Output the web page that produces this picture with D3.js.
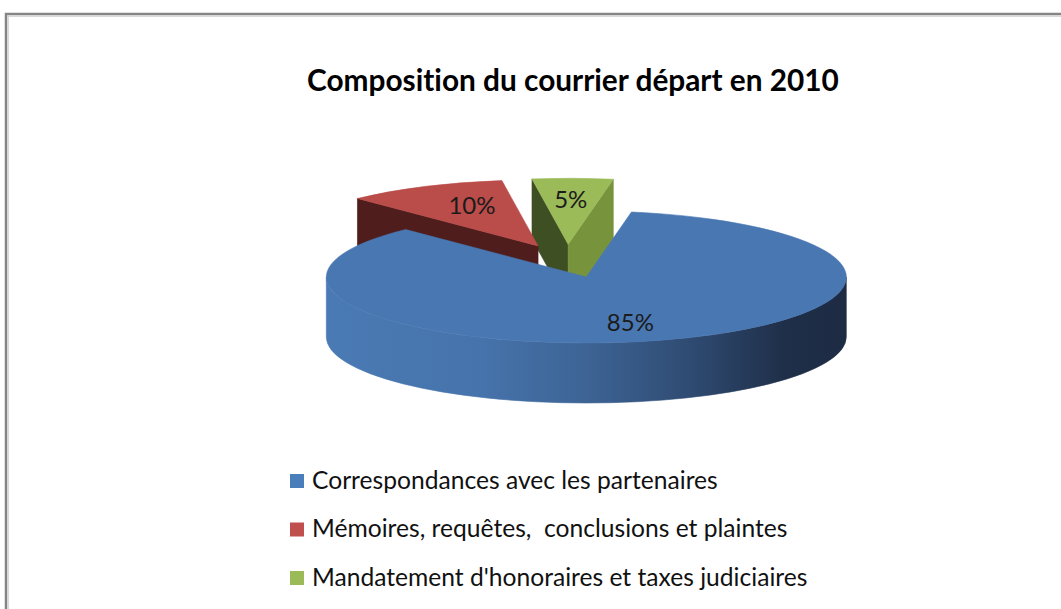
<!DOCTYPE html>
<html><head><meta charset="utf-8">
<script src="https://cdn.jsdelivr.net/npm/d3@7"></script>
<style>body{margin:0;background:#fff;} svg{display:block;} text{font-variant-ligatures:none;font-feature-settings:"liga" 0;}</style>
</head><body>
<svg id="chart" width="1061" height="609"></svg>
<script>
// ---- data ----
const titleText = "Composition du courrier départ en 2010";
const categories = [
  "Correspondances avec les partenaires",
  "Mémoires, requêtes,  conclusions et plaintes",
  "Mandatement d'honoraires et taxes judiciaires"
];
const values = [85, 10, 5];
const labelTexts = ["85%", "10%", "5%"];
const topColors = ["#4977b2", "#ba4c49", "#9bbb59"];
const legendColors = ["#4a7ebb", "#c0504d", "#9bbb59"];
const darkFaceColors = ["#1d2b43", "#4f1d1b", "#3d4f23"];
const midFaceColors = ["#2f4b72", "#7a2b29", "#77933c"];
const wallStops = [
  ["#4a7ab4", "#4673ab", "#3d6495", "#2f4b72", "#1f2f49", "#1d2b43"],
  ["#b94c4a", "#a94442", "#923a38", "#73302e", "#55201e", "#4f1d1b"],
  ["#98b857", "#8aa84f", "#7a9544", "#637a37", "#4a5c29", "#3d4f23"]
];
const stopOffsets = [0, 0.3, 0.5, 0.7, 0.88, 1];

// ---- layout ----
const W = 1061, H = 609;
const cx = 567, cy = 261, rx = 260, ry = 66, depth = 60, explode = 66;
const k = ry / rx;
const font = "Lato, 'Open Sans', sans-serif";

const svg = d3.select("#chart");
const defs = svg.append("defs");

// frame
svg.append("path").attr("d", `M6,${H} V14 H${W}`).attr("fill", "none")
  .attr("stroke", "#858585").attr("stroke-width", 2.5);
svg.append("path").attr("d", `M8.2,${H} V16.2 H${W}`).attr("fill", "none")
  .attr("stroke", "#c8c8c8").attr("stroke-width", 1);

// title
const title = svg.append("text").attr("x", 573).attr("y", 91)
  .attr("text-anchor", "middle").attr("font-family", font)
  .attr("font-weight", "bold").attr("font-size", 30).attr("fill", "#000")
  .text(titleText);
{
  const w = title.node().getComputedTextLength();
  title.attr("font-size", 30 * 532 / w);
}

// pie
const deg = Math.PI / 180;
const pie = d3.pie().sort(null).value(d => d)
  .startAngle(10 * deg).endAngle(370 * deg);
const arcs = pie(values).map((a, i) => {
  const mid = (a.startAngle + a.endAngle) / 2;
  return Object.assign(a, {
    i, mid,
    c: { x: cx + explode * Math.sin(mid), y: cy - explode * k * Math.cos(mid) }
  });
});

const P = (c, t, z = 0, f = 1) => [c.x + rx * f * Math.sin(t), c.y - ry * f * Math.cos(t) + z];
const pt = p => `${p[0].toFixed(2)},${p[1].toFixed(2)}`;

const order = arcs.slice().sort((a, b) => (-Math.cos(a.mid)) - (-Math.cos(b.mid)));
const gPie = svg.append("g");

order.forEach(a => {
  const { c, startAngle: s, endAngle: e, i } = a;
  const g = gPie.append("g");
  const gid = "wall" + i;
  const lg = defs.append("linearGradient").attr("id", gid)
    .attr("gradientUnits", "userSpaceOnUse")
    .attr("x1", c.x - rx).attr("x2", c.x + rx).attr("y1", 0).attr("y2", 0);
  stopOffsets.forEach((o, j) => lg.append("stop").attr("offset", o).attr("stop-color", wallStops[i][j]));

  // outer wall, front-facing parts
  [Math.PI / 2, 5 * Math.PI / 2].forEach(base => {
    const lo = Math.max(s, base), hi = Math.min(e, base + Math.PI);
    if (hi > lo) {
      const d = `M${pt(P(c, lo))} A${rx},${ry} 0 0 1 ${pt(P(c, hi))} L${pt(P(c, hi, depth))} A${rx},${ry} 0 0 0 ${pt(P(c, lo, depth))} Z`;
      g.append("path").attr("d", d).attr("fill", `url(#${gid})`)
        .attr("stroke", `url(#${gid})`).attr("stroke-width", 0.6);
    }
  });
  // cut faces
  const face = (t, col) => {
    const d = `M${c.x},${c.y} L${pt(P(c, t))} L${pt(P(c, t, depth))} L${c.x},${c.y + depth} Z`;
    g.append("path").attr("d", d).attr("fill", col).attr("stroke", col).attr("stroke-width", 0.6);
  };
  if (Math.sin(s) < 0) face(s, darkFaceColors[i]);
  if (Math.sin(e) > 0) face(e, midFaceColors[i]);
  // top face
  const large = (e - s) > Math.PI ? 1 : 0;
  const top = `M${c.x},${c.y} L${pt(P(c, s))} A${rx},${ry} 0 ${large} 1 ${pt(P(c, e))} Z`;
  g.append("path").attr("d", top).attr("fill", topColors[i])
    .attr("stroke", topColors[i]).attr("stroke-width", 0.6);
});

// data labels
svg.append("g").selectAll("text").data(arcs).join("text")
  .attr("x", a => P(a.c, a.mid, 0, 0.58)[0])
  .attr("y", a => P(a.c, a.mid, 0, 0.7)[1])
  .attr("text-anchor", "middle").attr("dominant-baseline", "central")
  .attr("font-family", font).attr("font-size", 24).attr("fill", "#1b1b1b")
  .text(a => labelTexts[a.i]);

// legend
const ly = d3.scaleLinear().domain([0, 1]).range([481, 529.5]);
const leg = svg.append("g").selectAll("g").data(categories).join("g")
  .attr("transform", (d, i) => `translate(290,${ly(i)})`);
leg.append("rect").attr("x", 0).attr("y", -7).attr("width", 14).attr("height", 14)
  .attr("fill", (d, i) => legendColors[i]);
const lt = leg.append("text").attr("x", 22).attr("y", 7.5)
  .attr("font-family", font).attr("font-size", 22).attr("fill", "#111")
  .style("white-space", "pre").text(d => d);
{
  const w = lt.nodes()[0].getComputedTextLength();
  lt.attr("font-size", 22 * 406 / w);
}
</script>
</body></html>
